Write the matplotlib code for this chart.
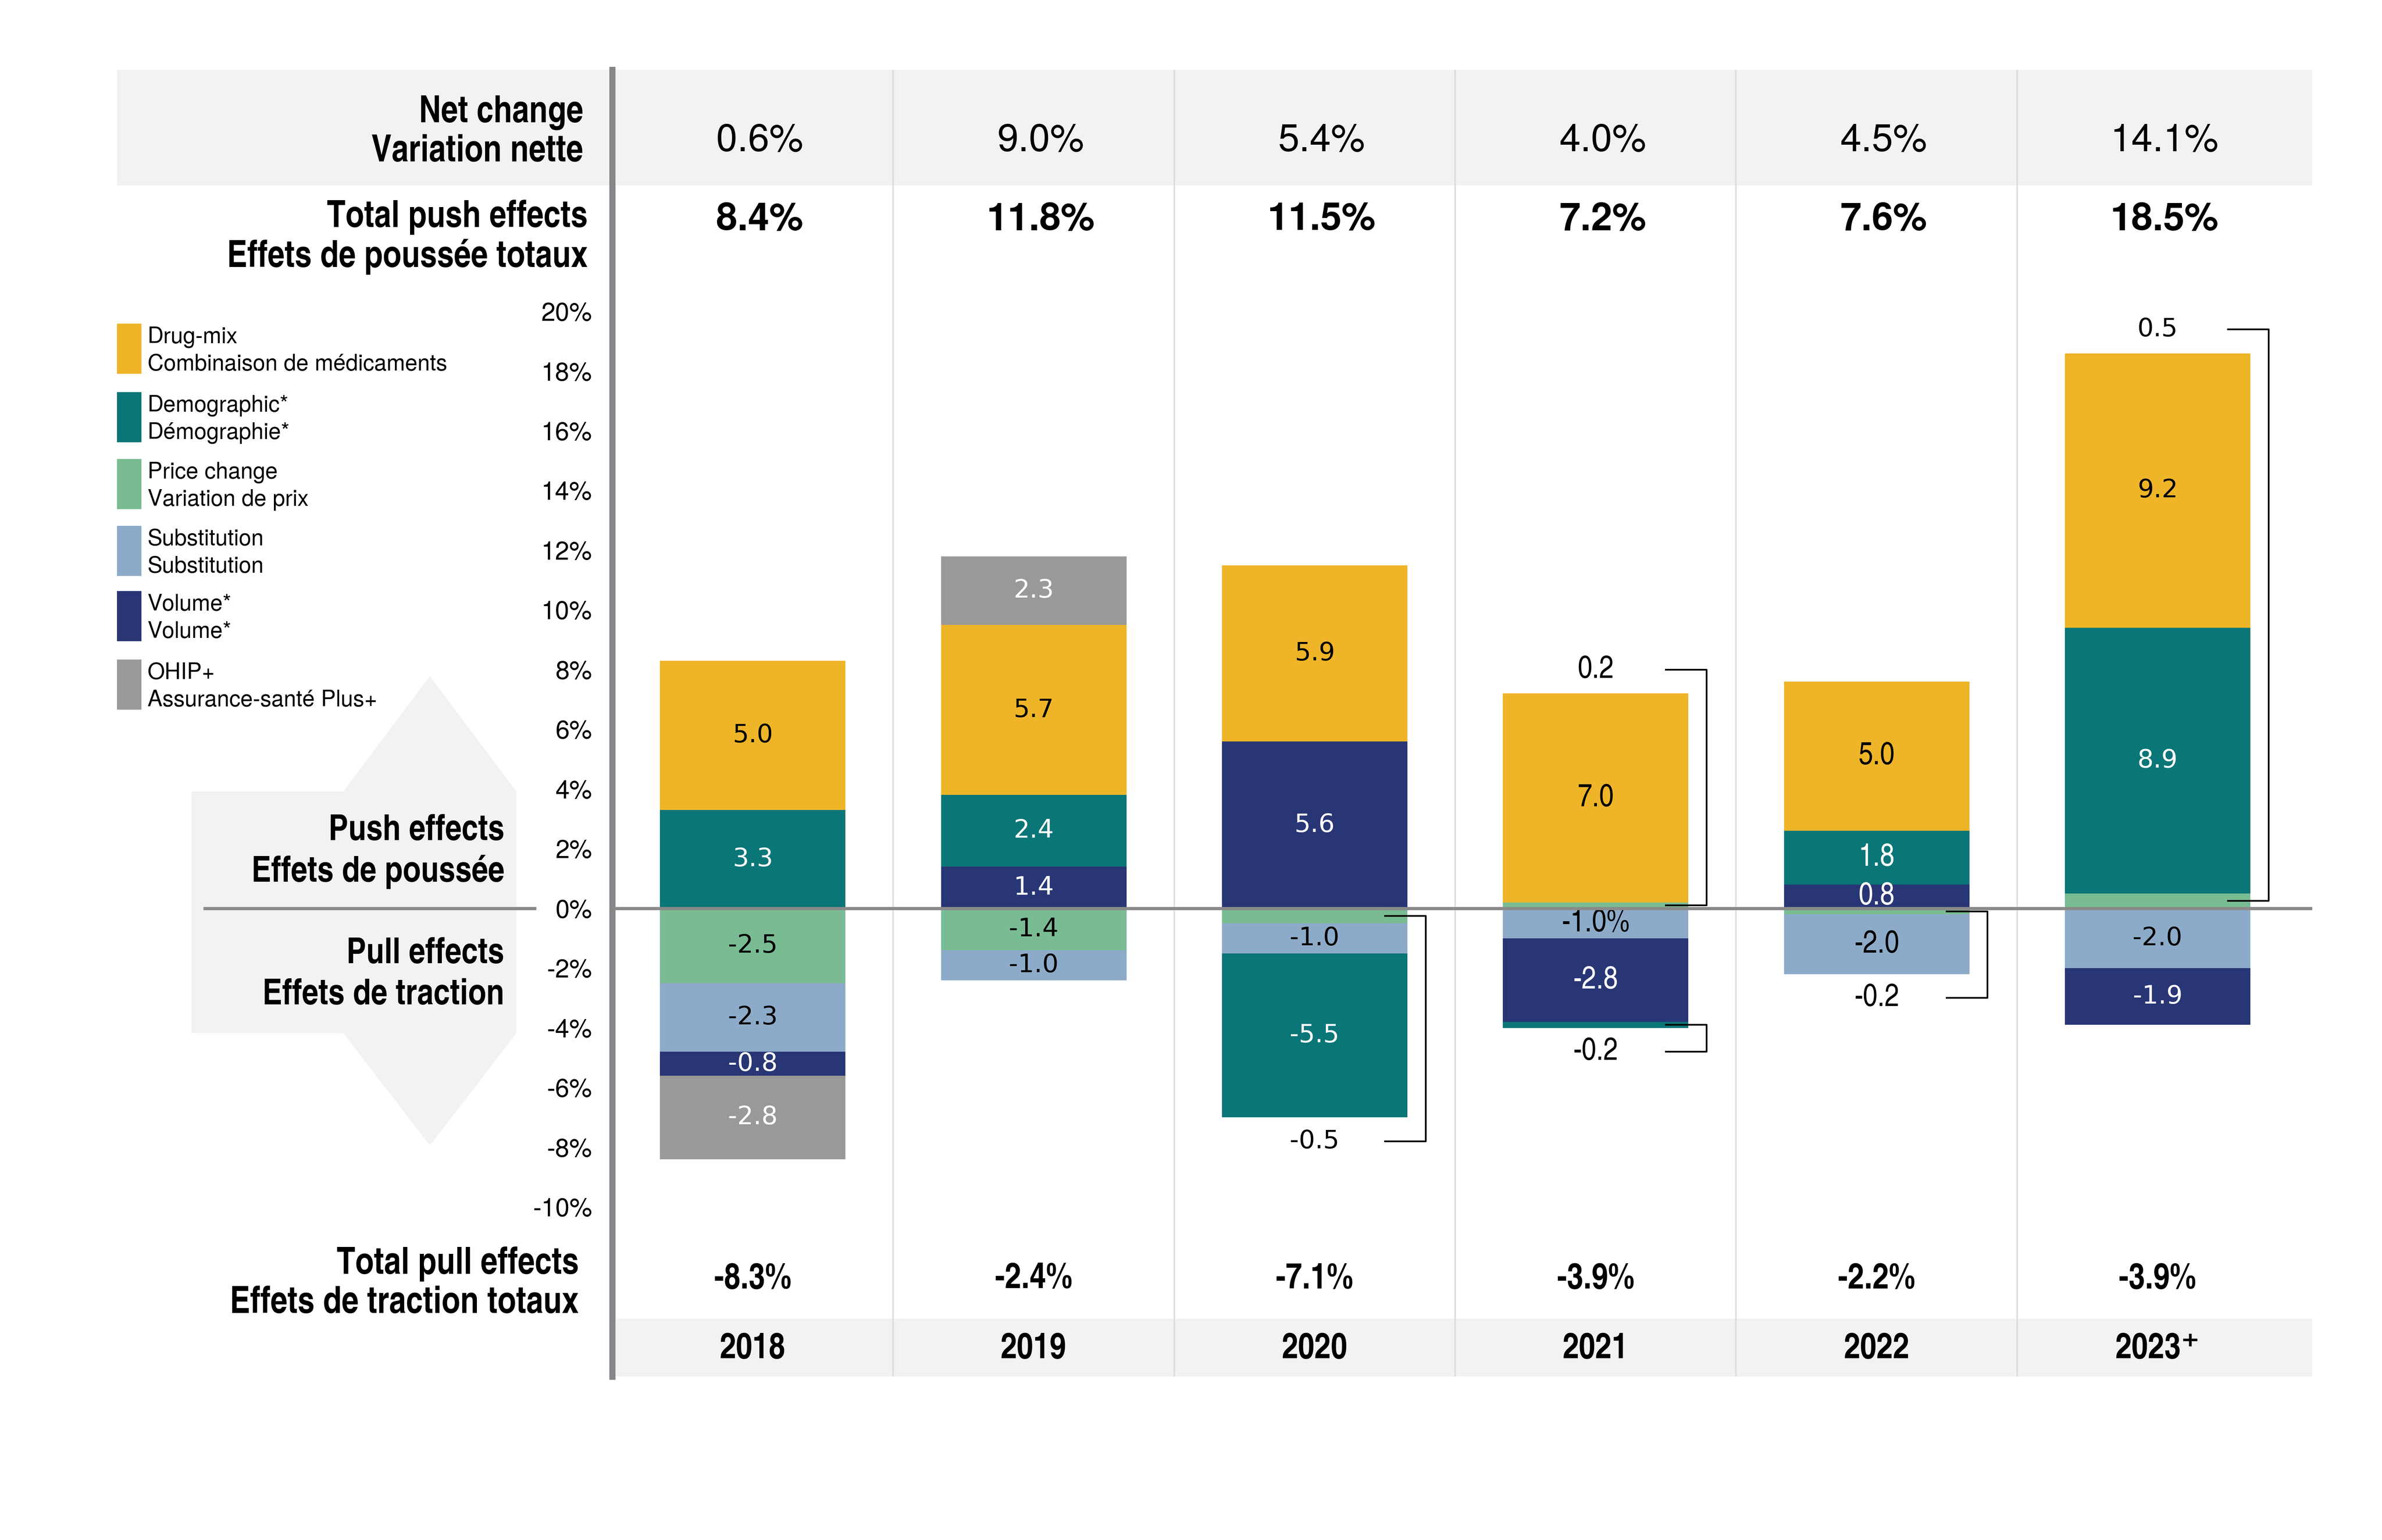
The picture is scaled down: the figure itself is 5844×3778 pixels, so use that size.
import numpy as np
import matplotlib
matplotlib.use('Agg')
import matplotlib.pyplot as plt
from matplotlib.patches import Rectangle, Polygon
from matplotlib.ticker import FuncFormatter
from matplotlib.transforms import blended_transform_factory

years        = ['2018', '2019', '2020', '2021', '2022', '2023\u207a']
drug_mix     = [5.0, 5.7, 5.9, 7.0, 5.0, 9.2]
demographic  = [3.3, 2.4, -5.5, -0.2, 1.8, 8.9]
price_change = [-2.5, -1.4, -0.5, 0.2, -0.2, 0.5]
substitution = [-2.3, -1.0, -1.0, -1.0, -2.0, -2.0]
volume       = [-0.8, 1.4, 5.6, -2.8, 0.8, -1.9]
ohip         = [-2.8, 2.3, 0.0, 0.0, 0.0, 0.0]
net_change   = [0.6, 9.0, 5.4, 4.0, 4.5, 14.1]
total_push   = [8.4, 11.8, 11.5, 7.2, 7.6, 18.5]
total_pull   = [-8.3, -2.4, -7.1, -3.9, -2.2, -3.9]
yticks       = list(range(-10, 21, 2))

legend_labels = [('Drug-mix', 'Combinaison de médicaments'),
                 ('Demographic*', 'Démographie*'),
                 ('Price change', 'Variation de prix'),
                 ('Substitution', 'Substitution'),
                 ('Volume*', 'Volume*'),
                 ('OHIP+', 'Assurance-santé Plus+')]

YELLOW = '#EFB528'
TEAL   = '#0B7677'
GREEN  = '#79BC93'
LBLUE  = '#8DABC9'
NAVY   = '#283675'
GREY   = '#999997'
BAND   = '#F2F2F2'

# stacking order away from zero
stack = [(price_change, GREEN, 'black'),
         (substitution, LBLUE, 'black'),
         (volume, NAVY, 'white'),
         (demographic, TEAL, 'white'),
         (drug_mix, YELLOW, 'black'),
         (ohip, GREY, 'white')]
legend_colors = [YELLOW, TEAL, GREEN, LBLUE, NAVY, GREY]

CN   = ['TeX Gyre Heros Cn', 'DejaVu Sans']
HEL  = ['TeX Gyre Heros', 'DejaVu Sans']
WIDE = ['DejaVu Sans']
narrow_years = [False, False, False, True, True, False]

W = 1568
H = W * 3778 / 5844
fig = plt.figure(figsize=(5844 / 375, 3778 / 375), dpi=375)
fig.patch.set_facecolor('white')

bg = fig.add_axes([0, 0, 1, 1], zorder=0)
bg.set_xlim(0, W)
bg.set_ylim(H, 0)
bg.axis('off')

# plot area: x 403..1522, y 46..906 (px), zero at 598, 19.65 px per %
ax = fig.add_axes([403 / W, 1 - 906 / H, 1119 / W, 860 / H], zorder=1)
ax.patch.set_alpha(0)
ax.set_xlim(-0.5, 5.55)
ax.set_ylim((598 - 906) / 19.65, (598 - 46) / 19.65)

# background bands
bg.add_patch(Rectangle((77, 46), 1522 - 77, 76, color=BAND, lw=0))
bg.add_patch(Rectangle((405, 868), 1522 - 405, 38, color=BAND, lw=0))

# push / pull double arrow
arrow = [(126, 521), (226, 521), (283, 445), (340, 521), (340, 680),
         (283, 754), (226, 680), (126, 680)]
bg.add_patch(Polygon(arrow, closed=True, color=BAND, lw=0))
bg.plot([135, 352], [598, 598], color='#8a8a8a', lw=1.5)

def two_lines(x, y1, y2, a, b, size=17.5):
    bg.text(x, y1, a, ha='right', va='center', fontsize=size, fontweight='bold', family=CN)
    bg.text(x, y2, b, ha='right', va='center', fontsize=size, fontweight='bold', family=CN)

two_lines(384, 74, 100, 'Net change', 'Variation nette')
two_lines(387, 143, 169, 'Total push effects', 'Effets de poussée totaux')
two_lines(332, 547, 574, 'Push effects', 'Effets de poussée', 17)
two_lines(332, 628, 655, 'Pull effects', 'Effets de traction', 17)
two_lines(381, 832, 858, 'Total pull effects', 'Effets de traction totaux')

# legend
for k, ((l1, l2), c) in enumerate(zip(legend_labels, legend_colors)):
    top = [213, 258, 302, 346, 389, 434][k]
    bg.add_patch(Rectangle((77, top), 16, 33, color=c, lw=0))
    bg.text(97, top + 9, l1, ha='left', va='center', fontsize=10.5, family=HEL)
    bg.text(97, top + 27, l2, ha='left', va='center', fontsize=10.5, family=HEL)

# axes styling
for s in ['top', 'right', 'bottom']:
    ax.spines[s].set_visible(False)
ax.spines['left'].set_color('#86868b')
ax.spines['left'].set_linewidth(2.9)
ax.set_xticks([])
ax.set_yticks(yticks)
ax.yaxis.set_major_formatter(FuncFormatter(lambda v, p: '%d%%' % v))
ax.tick_params(axis='y', length=0, pad=9.5, labelsize=12)
for t in ax.get_yticklabels():
    t.set_family(HEL)

for xd in np.arange(0.5, 5, 1):
    ax.axvline(xd, color='#dcdcdc', lw=0.7, zorder=1)
ax.axhline(0, color='#8a8a8a', lw=1.5, zorder=6)

x = np.arange(len(years))
pos_total = np.zeros(len(years))
neg_total = np.zeros(len(years))
for vals, col, tc in stack:
    v = np.array(vals)
    pos_total += np.where(v > 0, v, 0)
    neg_total += np.where(v < 0, v, 0)

pos_base = np.zeros(len(years))
neg_base = np.zeros(len(years))
for vals, col, tc in stack:
    v = np.array(vals)
    base = np.where(v >= 0, pos_base, neg_base)
    ax.bar(x, v, width=0.66, bottom=base, color=col, lw=0, zorder=3)
    for i in range(len(years)):
        if v[i] == 0:
            continue
        fam, fs = (CN, 15) if narrow_years[i] else (WIDE, 12)
        txt = '%.1f' % v[i]
        if i == 3 and vals is substitution:
            txt += '%'
        mid = base[i] + v[i] / 2
        if abs(v[i]) >= 0.6:
            ax.text(i, mid, txt, ha='center', va='center', color=tc,
                    fontsize=fs, family=fam, zorder=5)
        else:
            ly = pos_total[i] + 0.8 if v[i] > 0 else neg_total[i] - 0.8
            ax.text(i, ly, txt, ha='center', va='center', color='black',
                    fontsize=fs, family=fam, zorder=5)
            ax.plot([i + 0.25, i + 0.395, i + 0.395, i + 0.25], [ly, ly, mid, mid],
                    color='black', lw=0.8, zorder=5, clip_on=False)
    pos_base += np.where(v > 0, v, 0)
    neg_base += np.where(v < 0, v, 0)

# column texts
tr = blended_transform_factory(ax.transData, bg.transData)
for i in range(len(years)):
    ax.text(i + 0.025, 93, '%.1f%%' % net_change[i], transform=tr, ha='center', va='center',
            fontsize=18, family=HEL)
    ax.text(i + 0.025, 145, '%.1f%%' % total_push[i], transform=tr, ha='center', va='center',
            fontsize=18, fontweight='bold', family=HEL)
    ax.text(i, 842, '%.1f%%' % total_pull[i], transform=tr, ha='center', va='center',
            fontsize=17, fontweight='bold', family=CN)
    ax.text(i, 888, years[i], transform=tr, ha='center', va='center',
            fontsize=17, fontweight='bold', family=CN)

plt.savefig('out.png', dpi=375)
